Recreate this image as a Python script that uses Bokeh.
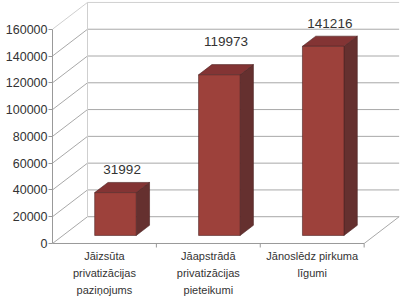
from bokeh.plotting import figure
from bokeh.models import Range1d, FixedTicker, ColumnDataSource
from bokeh.embed import file_html
from bokeh.resources import INLINE
from bokeh.core.properties import value

# ---- data ----
categories = ["Jāizsūta\nprivatizācijas\npaziņojums",
              "Jāapstrādā\nprivatizācijas\npieteikumi",
              "Jānoslēdz pirkuma\nlīgumi"]
values = [31992, 119973, 141216]
value_labels = ["31992", "119973", "141216"]
y_ticks = [0, 20000, 40000, 60000, 80000, 100000, 120000, 140000, 160000]

# ---- style / 3D geometry ----
DX = 0.337      # depth offset in category units
DY = 20000      # depth offset in value units
Z0, Z1 = 0.30, 0.68   # bar depth span
BW = 0.40       # bar width
label_dy = [-18, -28, -18]   # px offsets of value labels
FONT = "Liberation Sans"
TXT = "#333333"
GRID = "#a8a8a8"
AX = "#999999"

n = len(values)
p = figure(width=400, height=299, output_backend="svg", toolbar_location=None,
           x_range=Range1d(0, 3.35), y_range=Range1d(-41815, 180700),
           min_border_left=52, min_border_right=0, min_border_top=1, min_border_bottom=0)
p.outline_line_color = None
p.xgrid.visible = False
p.ygrid.visible = False
p.xaxis.visible = False
p.background_fill_color = "white"
p.border_fill_color = "white"

def proj(x, v, z):
    return x + z * DX, v + z * DY

# back wall gridlines and side wall diagonals
top = y_ticks[-1]
for t in y_ticks:
    col = "#cfcfcf" if t == top else GRID
    a = proj(0, t, 1); b = proj(n, t, 1)
    p.line([a[0], b[0]], [a[1], b[1]], line_color=col, line_width=1)
    c = proj(0, t, 0)
    p.line([c[0], a[0]], [c[1], a[1]], line_color=col, line_width=1)
# back wall left edge
a = proj(0, 0, 1); b = proj(0, top, 1)
p.line([a[0], b[0]], [a[1], b[1]], line_color="#cfcfcf", line_width=1)
# floor right edge
a = proj(n, 0, 0); b = proj(n, 0, 1)
p.line([a[0], b[0]], [a[1], b[1]], line_color=GRID, line_width=1)
# floor front edge (category axis) with boundary ticks
p.line([0, n], [0, 0], line_color=AX, line_width=1)
tick_len = 4 * 746.7
p.segment(x0=list(range(1, n + 1)), y0=[0] * n, x1=list(range(1, n + 1)), y1=[-tick_len] * n,
          line_color=AX, line_width=1)

# bars
front_x, front_y, top_x, top_y, side_x, side_y = [], [], [], [], [], []
for i, v in enumerate(values):
    x0 = i + 0.5 - BW / 2 + 0.005
    x1 = x0 + BW
    pts = [proj(x0, 0, Z0), proj(x1, 0, Z0), proj(x1, v, Z0), proj(x0, v, Z0)]
    front_x.append([q[0] for q in pts]); front_y.append([q[1] for q in pts])
    pts = [proj(x0, v, Z0), proj(x1, v, Z0), proj(x1, v, Z1), proj(x0, v, Z1)]
    top_x.append([q[0] for q in pts]); top_y.append([q[1] for q in pts])
    pts = [proj(x1, 0, Z0), proj(x1, v, Z0), proj(x1, v, Z1), proj(x1, 0, Z1)]
    side_x.append([q[0] for q in pts]); side_y.append([q[1] for q in pts])

p.patches(side_x, side_y, fill_color="#65302f", line_color="#4e2423", line_width=0.6)
p.patches(top_x, top_y, fill_color="#833434", line_color="#4e2423", line_width=0.6)
p.patches(front_x, front_y, fill_color="#9d413b", line_color="#4e2423", line_width=0.6)

# value labels
lx, ly = [], []
for i, v in enumerate(values):
    q = proj(i + 0.505, v, (Z0 + Z1) / 2)
    lx.append(q[0]); ly.append(q[1])
src = ColumnDataSource(dict(x=lx, y=ly, t=value_labels, dy=label_dy))
p.text(x="x", y="y", text="t", source=src, y_offset="dy",
       text_font=value(FONT), text_font_size="13.5px", text_color=TXT,
       text_align="center", text_baseline="middle")

# category labels
csrc = ColumnDataSource(dict(x=[i + 0.5 for i in range(n)], y=[0] * n, t=categories))
p.text(x="x", y="y", text="t", source=csrc, y_offset=7,
       text_font=value(FONT), text_font_size="11px", text_color=TXT,
       text_align="center", text_baseline="top", text_line_height=1.4)

# y axis
ya = p.yaxis[0]
ya.ticker = FixedTicker(ticks=y_ticks)
ya.bounds = (0, top)
ya.axis_line_color = AX
ya.major_tick_line_color = AX
ya.major_tick_in = 0
ya.major_tick_out = 4
ya.minor_tick_line_color = None
ya.major_label_standoff = 1
ya.major_label_text_font = FONT
ya.major_label_text_font_size = "12.5px"
ya.major_label_text_color = TXT
ya.formatter.use_scientific = False

open("out.html", "w").write(file_html(p, INLINE))
